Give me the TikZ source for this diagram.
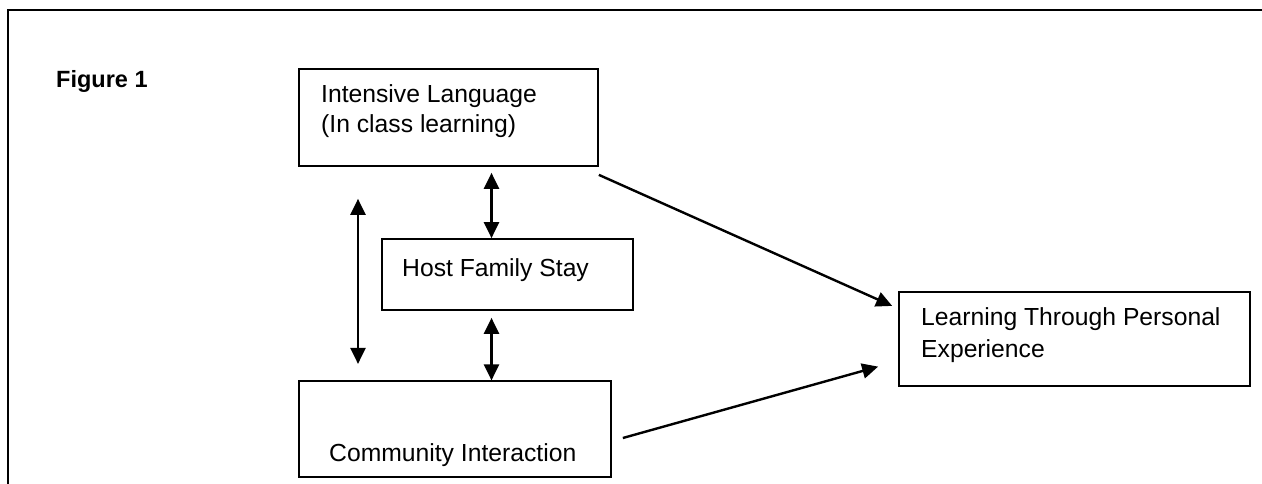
\documentclass[tikz,border=0pt]{standalone}
\usepackage{fontspec}
\setmainfont{Liberation Sans}
\usetikzlibrary{arrows.meta}
\begin{document}
\begin{tikzpicture}[x=1pt,y=-1pt,
  boxnode/.style={draw,line width=1.7pt,rectangle,inner sep=0pt},
  txt/.style={anchor=base west,inner sep=0pt,font=\fontsize{24.7pt}{30pt}\selectfont},
  arr/.style={line width=2.4pt,-{Triangle[length=16pt,width=15pt]}},
  dbl/.style={line width=2.4pt,{Triangle[length=16pt,width=15pt]}-{Triangle[length=16pt,width=15pt]}}
]
\useasboundingbox (0,0) rectangle (1262,483);
% frame
\coordinate (fbl) at (8,490);
\coordinate (ftl) at (8,10);
\coordinate (ftr) at (1270,10);
\draw[line width=2.6pt] (fbl) -- (ftl) -- (ftr);
% boxes
\node[boxnode,minimum width=299pt,minimum height=97pt] (A) at (448.5,117.5) {};
\node[boxnode,minimum width=251pt,minimum height=71pt] (B) at (507.5,274.5) {};
\node[boxnode,minimum width=312pt,minimum height=95.5pt] (C) at (455,429) {};
\node[boxnode,minimum width=351pt,minimum height=94.5pt] (D) at (1074.5,339) {};
% texts
\node[anchor=base west,inner sep=0pt,font=\bfseries\fontsize{23.5pt}{28pt}\selectfont] (fig) at (56,87) {Figure 1};
\node[txt] (a1) at (321,102) {Intensive Language};
\node[txt] (a2) at (321,132) {(In class learning)};
\node[txt] (b1) at (402,276) {Host Family Stay};
\node[txt] (c1) at (329,461.5) {Community Interaction};
\node[txt] (d1) at (921,325) {Learning Through Personal};
\node[txt] (d2) at (921,357) {Experience};
% connectors
\draw[dbl] ([xshift=-90.5pt,yshift=-32pt]A.south) -- ([xshift=-97pt,yshift=16.5pt]C.north);
\draw[dbl] ([xshift=43pt,yshift=-6pt]A.south) -- ([xshift=-16pt]B.north);
\draw[dbl] ([xshift=-16pt,yshift=-7pt]B.south) -- ([xshift=36.5pt]C.north);
\draw[arr] ([yshift=-8pt]A.south east) -- ([xshift=-6pt,yshift=-15pt]D.north west);
\draw[arr] ([xshift=11pt,yshift=-9pt]C.east) -- ([xshift=-20pt,yshift=20.5pt]D.south west);
\end{tikzpicture}
\end{document}
